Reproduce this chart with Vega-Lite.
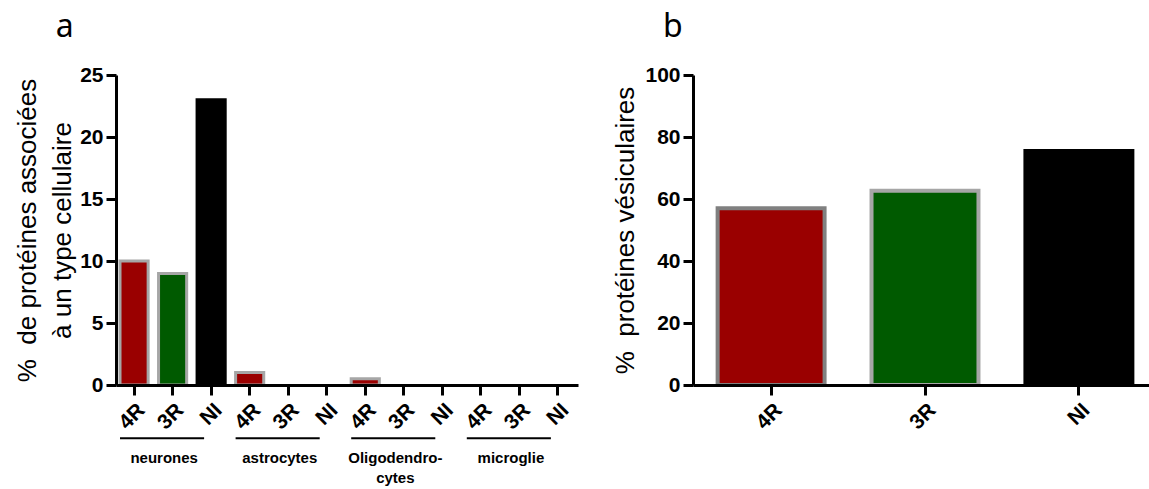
{
  "$schema": "https://vega.github.io/schema/vega-lite/v6.json",
  "padding": {"left": 14, "top": 11, "right": 0, "bottom": 0},
  "background": "white",
  "config": {
    "font": "Liberation Sans",
    "view": {"stroke": null},
    "axis": {
      "domainColor": "black", "domainWidth": 3, "tickColor": "black", "tickWidth": 3, "tickSize": 10,
      "labelColor": "black", "labelFont": "Liberation Sans", "labelFontWeight": "bold", "labelFontSize": 21,
      "titleColor": "black", "titleFont": "Liberation Sans", "titleFontWeight": "normal", "titleFontSize": 26,
      "grid": false
    },
    "title": {"font": "Noto Sans", "fontSize": 32, "fontWeight": "normal", "color": "black", "anchor": "start", "frame": "bounds"}
  },
  "spacing": 34,
  "resolve": {"scale": {"color": "independent", "stroke": "independent", "y": "independent"}},
  "hconcat": [
    {
      "width": 462,
      "height": 310,
      "title": {"text": "a", "dx": 41, "offset": 20},
      "layer": [
        {
          "data": {"values": [
            {"id": "4R|neurones", "type": "4R", "value": 10},
            {"id": "3R|neurones", "type": "3R", "value": 9},
            {"id": "NI|neurones", "type": "NI", "value": 23},
            {"id": "4R|astrocytes", "type": "4R", "value": 1},
            {"id": "3R|astrocytes", "type": "3R", "value": 0},
            {"id": "NI|astrocytes", "type": "NI", "value": 0},
            {"id": "4R|oligodendrocytes", "type": "4R", "value": 0.5},
            {"id": "3R|oligodendrocytes", "type": "3R", "value": 0},
            {"id": "NI|oligodendrocytes", "type": "NI", "value": 0},
            {"id": "4R|microglie", "type": "4R", "value": 0},
            {"id": "3R|microglie", "type": "3R", "value": 0},
            {"id": "NI|microglie", "type": "NI", "value": 0}
          ]},
          "mark": {"type": "bar", "strokeWidth": 3},
          "encoding": {
            "x": {
              "field": "id", "type": "nominal",
              "scale": {
                "domain": ["4R|neurones", "3R|neurones", "NI|neurones", "4R|astrocytes", "3R|astrocytes", "NI|astrocytes", "4R|oligodendrocytes", "3R|oligodendrocytes", "NI|oligodendrocytes", "4R|microglie", "3R|microglie", "NI|microglie"],
                "paddingInner": 0.27, "paddingOuter": 0.13, "align": 0.4
              },
              "axis": {"title": null, "labelAngle": -45, "labelExpr": "split(datum.value, '|')[0]", "zindex": 1, "labelPadding": 4}
            },
            "y": {
              "field": "value", "type": "quantitative",
              "scale": {"domain": [0, 25], "nice": false},
              "axis": {"values": [0, 5, 10, 15, 20, 25], "title": ["%\u00a0\u00a0de protéines associées", "à un type cellulaire"], "titlePadding": 4, "titleLineHeight": 35, "labelPadding": 3, "zindex": 1}
            },
            "color": {"field": "type", "type": "nominal", "scale": {"domain": ["4R", "3R", "NI"], "range": ["#9a0000", "#005a00", "#000000"]}, "legend": null},
            "stroke": {
              "condition": {"test": "datum.value === 0", "value": null},
              "field": "type", "type": "nominal", "scale": {"domain": ["4R", "3R", "NI"], "range": ["#a6a6a6", "#a6a6a6", "#000000"]}, "legend": null
            }
          }
        },
        {
          "data": {"values": [
            {"label": "neurones", "first": "4R|neurones", "mid": "3R|neurones", "last": "NI|neurones"},
            {"label": "astrocytes", "first": "4R|astrocytes", "mid": "3R|astrocytes", "last": "NI|astrocytes"},
            {"label": "Oligodendro-\ncytes", "first": "4R|oligodendrocytes", "mid": "3R|oligodendrocytes", "last": "NI|oligodendrocytes"},
            {"label": "microglie", "first": "4R|microglie", "mid": "3R|microglie", "last": "NI|microglie"}
          ]},
          "layer": [
            {
              "mark": {"type": "rule", "color": "black", "strokeWidth": 2},
              "encoding": {
                "x": {"field": "first", "type": "nominal", "bandPosition": 0},
                "x2": {"field": "last", "bandPosition": 0.25},
                "y": {"datum": -4.3, "type": "quantitative", "scale": {"domain": [0, 25], "nice": false}}
              }
            },
            {
              "mark": {"type": "text", "fontWeight": "bold", "fontSize": 15, "align": "center", "baseline": "alphabetic", "lineBreak": "\n", "lineHeight": 20, "color": "black"},
              "encoding": {
                "x": {"field": "mid", "type": "nominal", "bandPosition": 0.2},
                "y": {"datum": -6.3, "type": "quantitative", "scale": {"domain": [0, 25], "nice": false}},
                "text": {"field": "label"}
              }
            }
          ]
        }
      ]
    },
    {
      "width": 464,
      "height": 310,
      "title": {"text": "b", "dx": 50, "offset": 20},
      "data": {"values": [
        {"type": "4R", "value": 57},
        {"type": "3R", "value": 62.7},
        {"type": "NI", "value": 75.5}
      ]},
      "mark": {"type": "bar", "strokeWidth": 4},
      "encoding": {
        "x": {
          "field": "type", "type": "nominal", "sort": null,
          "scale": {"paddingInner": 0.305, "paddingOuter": 0.16},
          "axis": {"title": null, "labelAngle": -45, "zindex": 1, "labelPadding": 4}
        },
        "y": {
          "field": "value", "type": "quantitative",
          "scale": {"domain": [0, 100], "nice": false},
          "axis": {"values": [0, 20, 40, 60, 80, 100], "title": "%\u00a0\u00a0protéines vésiculaires", "titlePadding": 6, "labelPadding": 3, "zindex": 1}
        },
        "color": {"field": "type", "type": "nominal", "scale": {"domain": ["4R", "3R", "NI"], "range": ["#9a0000", "#005a00", "#000000"]}, "legend": null},
        "stroke": {"field": "type", "type": "nominal", "scale": {"domain": ["4R", "3R", "NI"], "range": ["#808080", "#a6a6a6", "#000000"]}, "legend": null}
      }
    }
  ]
}
